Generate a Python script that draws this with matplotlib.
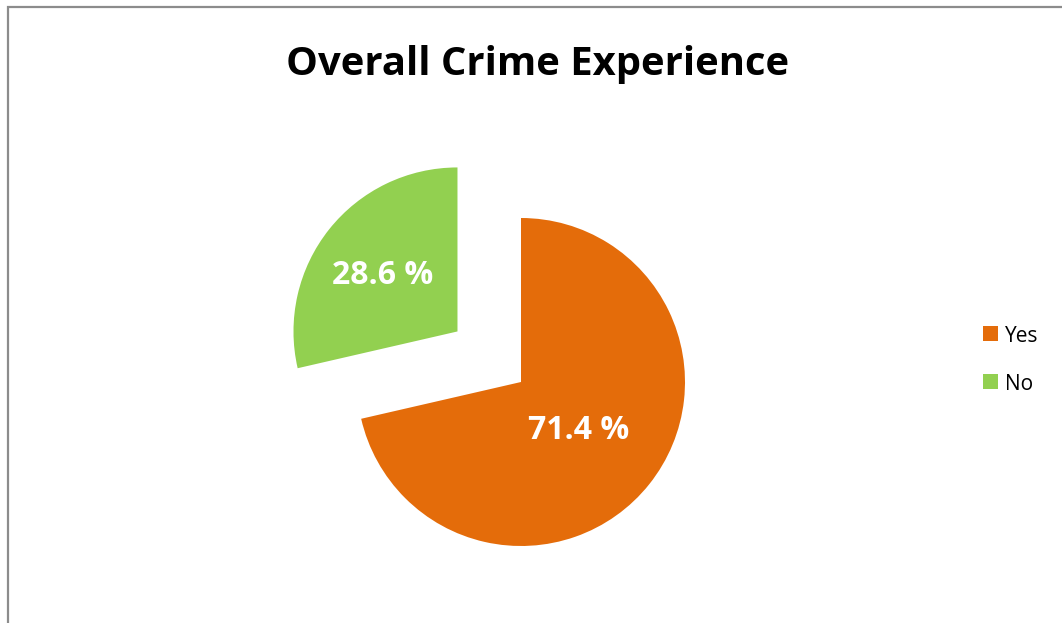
import numpy as np
import matplotlib.pyplot as plt
from matplotlib.patches import Rectangle

# survey answers and their shares (%)
labels = ["Yes", "No"]
shares = [71.4, 28.6]
colors = ["#E46C0A", "#92D050"]
explode = [0.0, 0.495]
pct_dist = [0.447, 0.582]

W, H = 1062, 623
fig = plt.figure(figsize=(W / 100, H / 100), dpi=100)
plt.rcParams['font.family'] = ['Open Sans', 'DejaVu Sans']

# grey chart frame (runs off the right and bottom edges)
fig.patches.append(Rectangle((8 / W, -0.1), 1.2, 1 - 7 / H + 0.1,
                             transform=fig.transFigure, fill=False,
                             edgecolor="#8c8c8c", linewidth=1.6))

# pie axes: radius 164 px around (521, 382)
cx, cy, r = 521, 382, 164
span = 1.6
ax = fig.add_axes([(cx - span * r) / W, (H - cy - span * r) / H,
                   2 * span * r / W, 2 * span * r / H])
wedges, _, autotexts = ax.pie(shares, colors=colors, explode=explode,
                              startangle=90, counterclock=False, radius=1,
                              autopct=lambda p: f"{p:.1f} %",
                              wedgeprops=dict(linewidth=0),
                              textprops=dict(color="white", fontsize=23,
                                             fontweight="bold"))
ax.set_xlim(-span, span)
ax.set_ylim(-span, span)
ax.set_aspect("auto")
ax.axis("off")

# put the percentages on their baseline, centred on the digits
half_digit = 11.7 / r
for w, t, d in zip(wedges, autotexts, pct_dist):
    mid = np.deg2rad((w.theta1 + w.theta2) / 2)
    x0, y0 = w.center
    t.set_verticalalignment("baseline")
    t.set_position((x0 + d * np.cos(mid), y0 + d * np.sin(mid) - half_digit))

fig.text(538 / W, 1 - 75 / H, "Overall Crime Experience", ha="center",
         va="baseline", fontsize=28.8, fontweight="bold", color="black")

# legend squares with labels
for i, (lab, col) in enumerate(zip(labels, colors)):
    y = 333.5 + i * 48
    fig.patches.append(Rectangle((983 / W, 1 - (y + 7.5) / H), 15 / W, 15 / H,
                                 transform=fig.transFigure, facecolor=col,
                                 edgecolor="none"))
    fig.text(1005 / W, 1 - (y + 8) / H, lab, ha="left", va="baseline",
             fontsize=15, color="black")

fig.savefig("out.png", dpi=100)
